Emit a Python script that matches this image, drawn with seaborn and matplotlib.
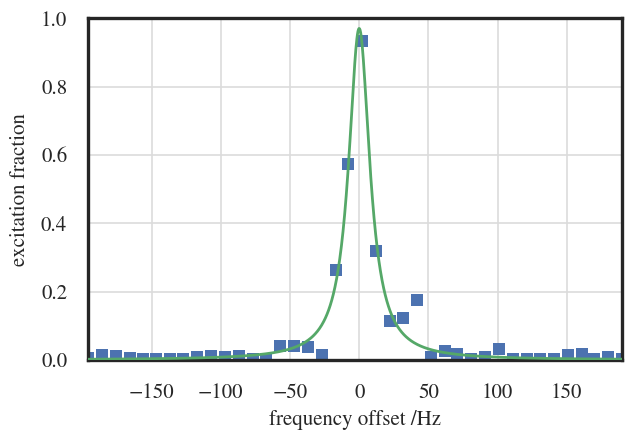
import numpy as np
import pandas as pd
import seaborn as sns
import matplotlib.pyplot as plt

# measured points: frequency offset (Hz) and excitation fraction
freq = [-196, -186, -176, -166, -156, -147, -137, -127, -117, -107,
        -97, -87, -77, -67, -57, -47, -37, -27, -17, -8,
        2, 12, 22, 32, 42, 52, 62, 71, 81, 91,
        101, 111, 121, 131, 141, 151, 161, 170, 180, 190]
excitation = [0.005, 0.016, 0.013, 0.007, 0.002, 0.002, 0.002, 0.002, 0.010, 0.013,
              0.010, 0.013, 0.002, 0.002, 0.042, 0.042, 0.039, 0.016, 0.263, 0.573,
              0.932, 0.319, 0.114, 0.122, 0.176, 0.008, 0.025, 0.018, 0.002, 0.010,
              0.033, 0.002, 0.004, 0.004, 0.004, 0.015, 0.018, 0.002, 0.010, 0.003]

# Lorentzian fit parameters
fit_amp = 0.97
fit_center = 0.0
fit_hwhm = 9.3

sns.set_theme(style="whitegrid")
plt.rcParams['font.family'] = ['STIXGeneral', 'Liberation Serif', 'DejaVu Serif']
plt.rcParams['mathtext.fontset'] = 'stix'

df = pd.DataFrame({'freq': freq, 'excitation': excitation})
f_fit = np.linspace(min(freq), max(freq), 1000)
fit_df = pd.DataFrame({'freq': f_fit,
                       'excitation': fit_amp / (1 + ((f_fit - fit_center) / fit_hwhm) ** 2)})

fig, ax = plt.subplots(figsize=(6.4, 4.32), dpi=100)
fig.subplots_adjust(left=0.1375, right=0.972, bottom=0.1667, top=0.958)

sns.scatterplot(data=df, x='freq', y='excitation', marker='s', s=64,
                color='#4c72b0', linewidth=0, ax=ax, zorder=2)
sns.lineplot(data=fit_df, x='freq', y='excitation', color='#55a868',
             linewidth=2.0, ax=ax, zorder=3)

ax.set_xlim(min(freq), max(freq))
ax.set_ylim(0, 1.0)
ax.set_xticks([-150, -100, -50, 0, 50, 100, 150])
ax.set_yticks([0.0, 0.2, 0.4, 0.6, 0.8, 1.0])
ax.set_yticklabels(['0.0', '0.2', '0.4', '0.6', '0.8', '1.0'])
ax.set_xlabel('frequency offset /Hz', fontsize=15, labelpad=5)
ax.set_ylabel('excitation fraction', fontsize=15, labelpad=8)
ax.tick_params(axis='x', labelsize=15, colors='#262626', pad=11)
ax.tick_params(axis='y', labelsize=15, colors='#262626', pad=9)
ax.grid(color='#dcdcdc', linewidth=1.2)
for sp in ax.spines.values():
    sp.set_color('#262626')
    sp.set_linewidth(2.4)

plt.savefig('out.png', dpi=100)
